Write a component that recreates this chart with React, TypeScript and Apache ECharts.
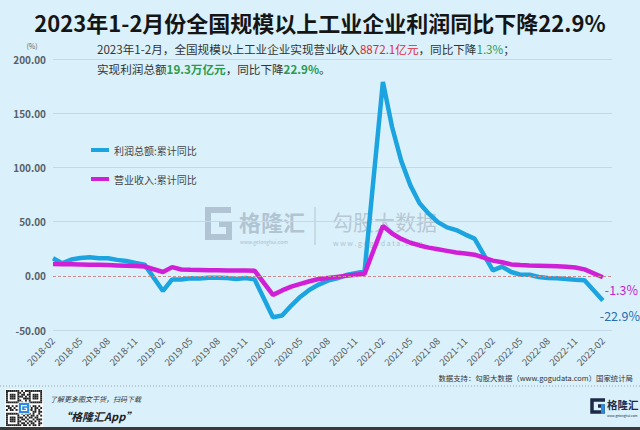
import React, { useEffect, useRef } from "react";
import * as echarts from "echarts";

const categories = [
  "2018-02", "2018-03", "2018-04", "2018-05", "2018-06", "2018-07", "2018-08", "2018-09", "2018-10", "2018-11", "2018-12",
  "2019-01", "2019-02", "2019-03", "2019-04", "2019-05", "2019-06", "2019-07", "2019-08", "2019-09", "2019-10", "2019-11", "2019-12",
  "2020-01", "2020-02", "2020-03", "2020-04", "2020-05", "2020-06", "2020-07", "2020-08", "2020-09", "2020-10", "2020-11", "2020-12",
  "2021-01", "2021-02", "2021-03", "2021-04", "2021-05", "2021-06", "2021-07", "2021-08", "2021-09", "2021-10", "2021-11", "2021-12",
  "2022-01", "2022-02", "2022-03", "2022-04", "2022-05", "2022-06", "2022-07", "2022-08", "2022-09", "2022-10", "2022-11", "2022-12",
  "2023-01", "2023-02", "2023-03",
];

// 利润总额:累计同比 (%), January not published (null)
const profitYoY = [
  16.1, 11.6, 15.0, 16.5, 17.2, 16.2, 16.2, 14.7, 13.6, 11.8, 10.3,
  null, -14.0, -3.3, -3.4, -2.3, -2.4, -1.7, -1.7, -2.1, -2.9, -2.1, -3.3,
  null, -38.3, -36.7, -27.4, -19.3, -12.8, -8.1, -4.4, -2.4, 0.7, 2.4, 4.1,
  null, 178.9, 137.3, 106.0, 83.4, 66.9, 57.3, 49.5, 44.7, 42.2, 38.0, 34.3,
  null, 5.0, 8.5, 3.5, 1.0, 1.0, -1.1, -2.1, -2.3, -3.0, -3.6, -4.0,
  null, -22.9,
];

// 营业收入:累计同比 (%)
const revenueYoY = [
  10.8, 10.6, 10.6, 10.5, 10.3, 10.1, 9.9, 9.6, 9.3, 9.0, 8.6,
  null, 3.5, 8.0, 5.8, 5.5, 5.4, 5.2, 5.1, 5.0, 5.0, 4.9, 4.7,
  null, -17.6, -13.5, -10.0, -7.5, -5.0, -3.0, -2.0, -1.0, 0.0, 1.0, 1.8,
  null, 46.0, 39.0, 34.0, 30.5, 28.0, 26.0, 24.5, 23.0, 21.5, 20.5, 19.5,
  null, 14.0, 12.5, 10.5, 10.0, 9.6, 9.3, 9.0, 8.7, 8.3, 7.6, 5.9,
  null, -1.3,
];

const seriesNames = ["利润总额:累计同比", "营业收入:累计同比"];
const yMin = -50;
const yMax = 200;
const yInterval = 50;

const titleText = "2023年1-2月份全国规模以上工业企业利润同比下降22.9%";
const noteLine1 = "2023年1-2月，全国规模以上工业企业实现营业收入{r|8872.1亿元}，同比下降{g|1.3%}；";
const noteLine2 = "实现利润总额{gb|19.3万亿元}，同比下降{gb|22.9%}。";
const sourceText = "数据支持：勾股大数据（www.gogudata.com）国家统计局";

const qrRows = [
  "1111111010111111111",
  "1000001101001000001",
  "1011101011011011101",
  "1011101110101011101",
  "1011101001111011101",
  "1000001100101000001",
  "1111111010101111111",
  "0000000101100000000",
  "1101011001101011010",
  "0110100110110101101",
  "1011011011001101010",
  "0000000101010011011",
  "1111111010111010010",
  "1000001001010110101",
  "1011101110101101100",
  "1011101011010010111",
  "1011101100101101010",
  "1000001011010110011",
  "1111111101101011010",
];

const FONT = '"Noto Sans CJK SC", "Noto Sans", sans-serif';
const BG = "#daf1fb";
const BLUE = "#1ba4e0";
const MAGENTA = "#d01fd6";

function txt(x: number, y: number, text: string, s: any, z = 10): any {
  return {
    type: "text",
    x,
    y,
    z,
    silent: true,
    style: {
      text,
      fontFamily: FONT,
      align: s.align || "left",
      textAlign: s.align || "left",
      verticalAlign: "middle",
      textVerticalAlign: "middle",
      ...s,
    },
  };
}

function buildQR(): any[] {
  const m = 1.9;
  const x0 = 6;
  const y0 = 390;
  const els: any[] = [
    { type: "rect", z: 10, shape: { x: x0 - 1, y: y0 - 1, width: 19 * m + 2, height: 19 * m + 2 }, style: { fill: "#ffffff" } },
  ];
  qrRows.forEach((row, r) => {
    for (let c = 0; c < row.length; c++) {
      if (row[c] === "1") {
        els.push({ type: "rect", z: 11, shape: { x: x0 + c * m, y: y0 + r * m, width: m, height: m }, style: { fill: "#222" } });
      }
    }
  });
  els.push({ type: "rect", z: 12, shape: { x: x0 + 7 * m - 1, y: y0 + 7 * m - 1, width: 5 * m + 2, height: 5 * m + 2, r: 1.5 }, style: { fill: "#2a8be0", stroke: "#fff", lineWidth: 1 } });
  els.push({ type: "polyline", z: 13, shape: { points: [[x0 + 11 * m, y0 + 8.2 * m], [x0 + 8.2 * m, y0 + 8.2 * m], [x0 + 8.2 * m, y0 + 10.8 * m], [x0 + 10.8 * m, y0 + 10.8 * m], [x0 + 10.8 * m, y0 + 9.6 * m], [x0 + 9.6 * m, y0 + 9.6 * m]] }, style: { stroke: "#fff", lineWidth: 1.2, fill: null } });
  return els;
}

export default function App() {
  const ref = useRef<HTMLDivElement>(null);

  useEffect(() => {
    document.body.style.margin = "0";
    if (!ref.current) return;
    const chart = echarts.init(ref.current, null, { renderer: "svg" });

    const splitColors = [];
    for (let v = yMin; v <= yMax; v += yInterval) {
      splitColors.push(v === 0 ? "rgba(0,0,0,0)" : "#c3d9e5");
    }

    const graphic: any[] = [
      txt(320, 22, titleText, { fontSize: 22, fontWeight: "bold", fill: "#151515", align: "center" }),
      txt(97, 49, noteLine1, {
        fontSize: 11.6,
        fill: "#333",
        rich: {
          r: { fontSize: 11.6, fill: "#e0283a", fontFamily: FONT },
          g: { fontSize: 11.6, fill: "#2b9a4e", fontFamily: FONT },
        },
      }),
      txt(97, 69, noteLine2, {
        fontSize: 11.6,
        fill: "#333",
        rich: {
          gb: { fontSize: 11.6, fill: "#2b9a4e", fontWeight: "bold", fontFamily: FONT },
        },
      }),
      txt(32, 46, "(%)", { fontSize: 7, fill: "#666", align: "center" }),
      // watermark
      {
        type: "polyline",
        z: 0,
        silent: true,
        x: 204,
        y: 206,
        shape: { points: [[27, 4], [4, 4], [4, 31], [25, 31], [25, 18], [15, 18]] },
        style: { stroke: "#a9bccb", lineWidth: 6, fill: null, opacity: 0.85 },
      },
      txt(239, 221, "格隆汇", { fontSize: 22, fontWeight: "bold", fill: "#aabccb", opacity: 0.85 }, 0),
      txt(240, 241, "www.gelonghui.com", { fontSize: 5, fill: "#aabccb" }, 0),
      { type: "line", z: 0, silent: true, shape: { x1: 315, y1: 207, x2: 315, y2: 245 }, style: { stroke: "#b3c4d1", lineWidth: 1 } },
      txt(332, 221, "勾股大数据", { fontSize: 21, fill: "#b3c3d0", opacity: 0.9 }, 0),
      txt(333, 243, "w w w . g o g u d a t a . c o m", { fontSize: 7, fill: "#b3c3d0" }, 0),
      // source & footer
      txt(633, 377, sourceText, { fontSize: 7.4, fill: "#333", align: "right" }),
      { type: "line", z: 10, silent: true, shape: { x1: 0, y1: 386, x2: 640, y2: 386 }, style: { stroke: "#9aa5ab", lineWidth: 1, lineDash: [1, 2] } },
      ...buildQR(),
      txt(50, 399, "了解更多图文干货，扫码下载", { fontSize: 7, fill: "#333", fontStyle: "italic" }),
      txt(60, 416, "“格隆汇App”", { fontSize: 11, fill: "#222", fontWeight: "bold", fontStyle: "italic" }),
      {
        type: "polyline",
        z: 10,
        silent: true,
        x: 590,
        y: 398,
        shape: { points: [[15, 2], [2, 2], [2, 14], [13, 14], [13, 8], [8, 8]] },
        style: { stroke: "#1d2a48", lineWidth: 3.5, fill: null },
      },
      { type: "rect", z: 11, silent: true, shape: { x: 601, y: 404, width: 3.5, height: 10 }, style: { fill: "#2a8be0" } },
      txt(607, 404, "格隆汇", { fontSize: 10.5, fontWeight: "bold", fill: "#1d2a48" }),
      txt(607, 415, "www.gelonghui.com", { fontSize: 3.2, fill: "#1d2a48" }),
      { type: "rect", z: 10, silent: true, shape: { x: 0, y: 427, width: 640, height: 3 }, style: { fill: "#3a3a3a" } },
    ];

    const option: any = {
      animation: false,
      backgroundColor: BG,
      textStyle: { fontFamily: FONT },
      grid: { left: 53, right: 28, top: 59, bottom: 100, containLabel: false },
      legend: {
        data: seriesNames,
        orient: "vertical",
        left: 86,
        top: 140,
        itemGap: 19,
        itemWidth: 18,
        itemHeight: 4,
        icon: "rect",
        textStyle: { fontSize: 10, color: "#444", fontFamily: FONT },
      },
      xAxis: {
        type: "category",
        data: categories,
        boundaryGap: false,
        axisLine: { show: false },
        axisTick: { show: false },
        splitLine: { show: false },
        axisLabel: { interval: 2, rotate: 45, fontSize: 9.5, color: "#555", margin: 9, fontFamily: FONT },
      },
      yAxis: {
        type: "value",
        min: yMin,
        max: yMax,
        interval: yInterval,
        axisLine: { show: false },
        axisTick: { show: false },
        axisLabel: {
          formatter: (v: number) => v.toFixed(2),
          fontSize: 10,
          fontWeight: "bold",
          color: "#56606a",
          margin: 7,
          fontFamily: FONT,
        },
        splitLine: { show: true, lineStyle: { color: splitColors, width: 1 } },
      },
      series: [
        {
          type: "line",
          name: "zero",
          data: [],
          z: 1,
          silent: true,
          markLine: {
            silent: true,
            symbol: "none",
            label: { show: false },
            lineStyle: { type: [3, 2], color: "#c98c8c", width: 1 },
            data: [{ yAxis: 0 }],
          },
        },
        {
          type: "line",
          name: seriesNames[0],
          data: profitYoY,
          connectNulls: true,
          symbol: "none",
          z: 3,
          lineStyle: { color: BLUE, width: 4.5 },
          itemStyle: { color: BLUE },
          endLabel: {
            show: true,
            distance: 0,
            offset: [-3, 15],
            formatter: (p: any) => p.value + "%",
            color: "#2b6cb3",
            fontSize: 12.5,
            fontFamily: FONT,
          },
        },
        {
          type: "line",
          name: seriesNames[1],
          data: revenueYoY,
          connectNulls: true,
          symbol: "none",
          z: 4,
          lineStyle: { color: MAGENTA, width: 4.5 },
          itemStyle: { color: MAGENTA },
          endLabel: {
            show: true,
            distance: 0,
            offset: [2, 12],
            formatter: (p: any) => p.value + "%",
            color: "#c81fcf",
            fontSize: 12.5,
            fontFamily: FONT,
          },
        },
      ],
      graphic,
    };

    chart.setOption(option);
    return () => chart.dispose();
  }, []);

  return (
    <div
      ref={ref}
      style={{ position: "absolute", left: 0, top: 0, width: 640, height: 430, background: BG }}
    />
  );
}
